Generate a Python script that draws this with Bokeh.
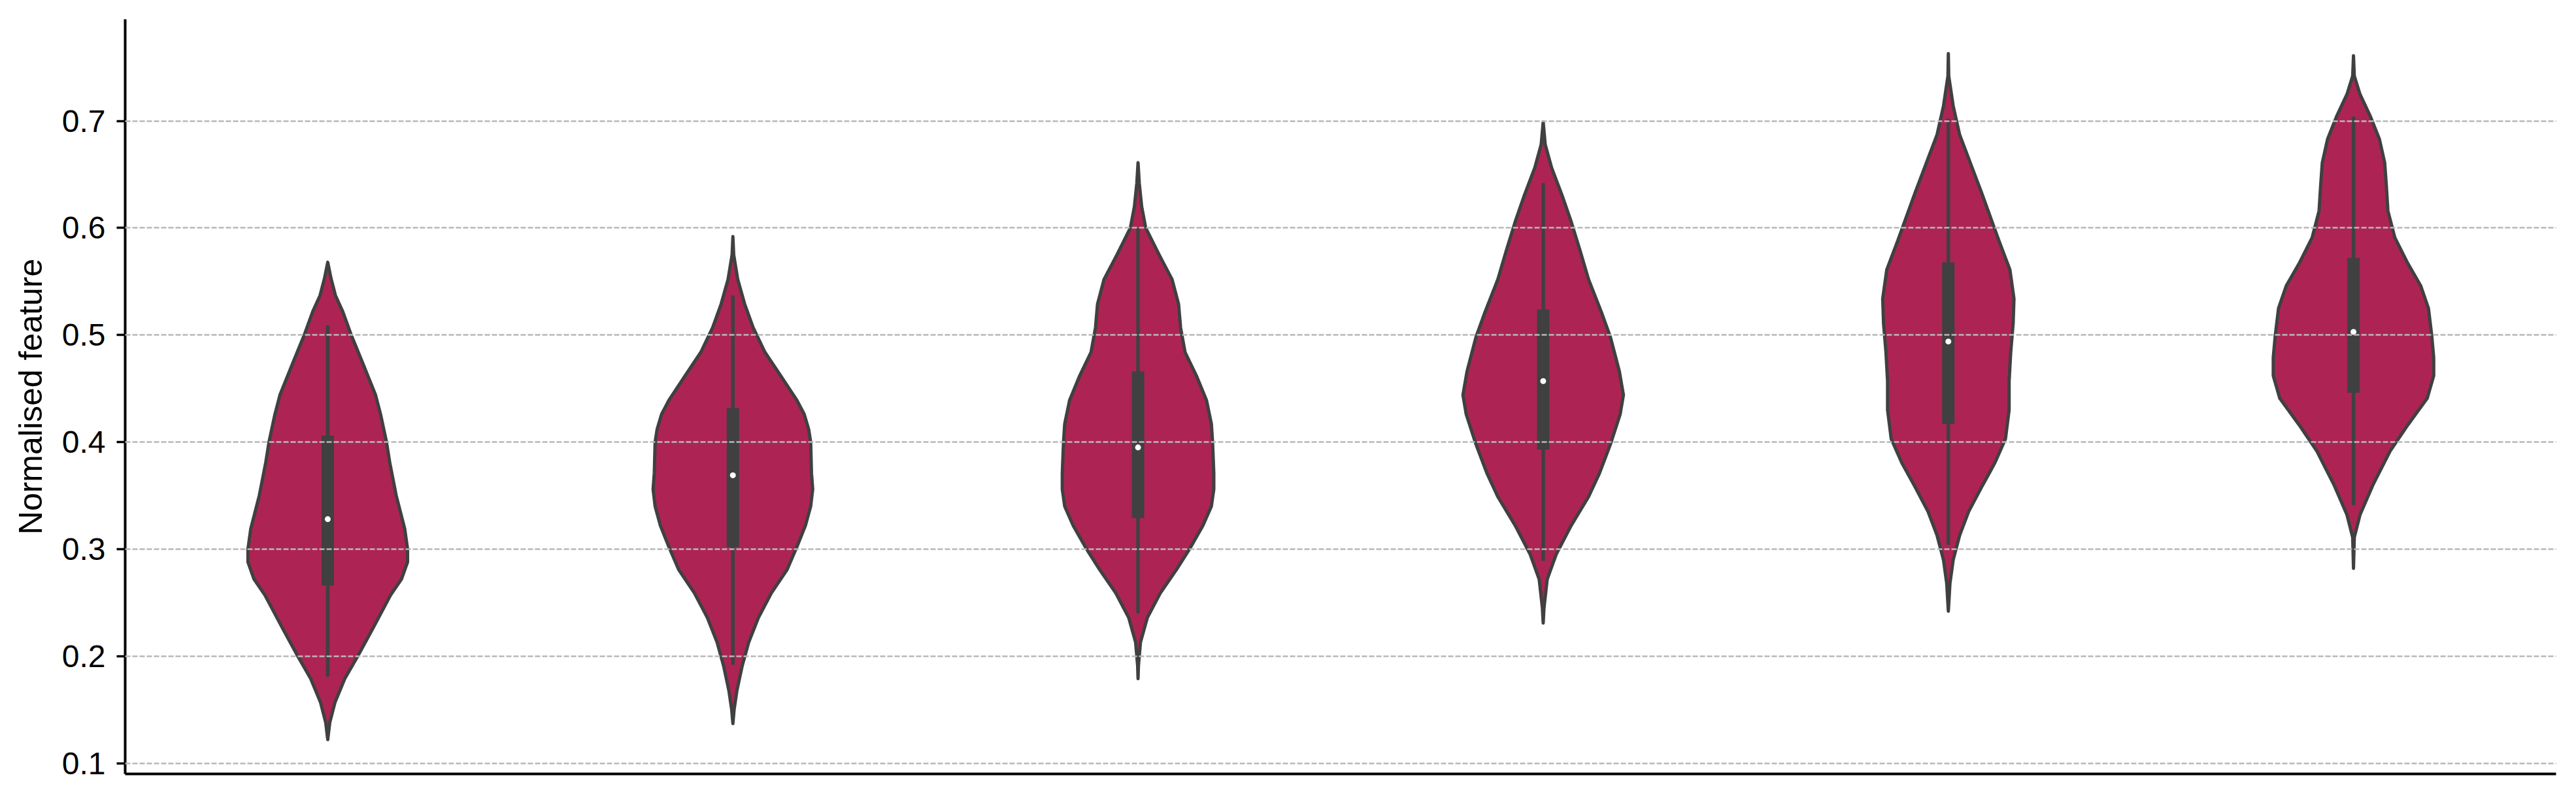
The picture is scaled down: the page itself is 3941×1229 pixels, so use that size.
from bokeh.plotting import figure
from bokeh.models import Range1d, FixedTicker
from bokeh.embed import file_html
from bokeh.resources import INLINE

# ---- data ----
categories = [0, 1, 2, 3, 4, 5]

# violin outlines: sampled values (y) and half widths (in category units)
v1_y = [0.568, 0.553, 0.537, 0.522, 0.500, 0.475, 0.444, 0.425, 0.400, 0.381, 0.350,
        0.319, 0.300, 0.288, 0.272, 0.257, 0.225, 0.200, 0.179, 0.157, 0.138, 0.122]
v1_hw = [0.000, 0.008, 0.019, 0.037, 0.058, 0.085, 0.118, 0.131, 0.145, 0.153, 0.169,
         0.190, 0.197, 0.197, 0.182, 0.155, 0.110, 0.074, 0.042, 0.018, 0.005, 0.000]

v2_y = [0.592, 0.575, 0.552, 0.529, 0.507, 0.484, 0.462, 0.439, 0.426, 0.412, 0.400, 0.371,
        0.356, 0.340, 0.322, 0.304, 0.281, 0.259, 0.236, 0.213, 0.191, 0.168, 0.150, 0.137]
v2_hw = [0.000, 0.002, 0.012, 0.029, 0.050, 0.079, 0.118, 0.158, 0.176, 0.187, 0.192, 0.194,
         0.197, 0.192, 0.179, 0.160, 0.134, 0.095, 0.063, 0.039, 0.023, 0.010, 0.003, 0.000]

v3_y = [0.661, 0.642, 0.620, 0.600, 0.575, 0.552, 0.529, 0.507, 0.484, 0.462, 0.439, 0.417,
        0.400, 0.371, 0.356, 0.340, 0.322, 0.300, 0.281, 0.259, 0.236, 0.213, 0.191, 0.179]
v3_hw = [0.000, 0.003, 0.009, 0.019, 0.052, 0.084, 0.100, 0.105, 0.116, 0.144, 0.169, 0.181,
         0.184, 0.187, 0.187, 0.181, 0.160, 0.127, 0.095, 0.055, 0.023, 0.006, 0.001, 0.000]

v4_y = [0.699, 0.678, 0.656, 0.629, 0.606, 0.579, 0.552, 0.520, 0.498, 0.466,
        0.444, 0.426, 0.398, 0.371, 0.349, 0.322, 0.295, 0.272, 0.245, 0.231]
v4_hw = [0.000, 0.005, 0.021, 0.048, 0.069, 0.091, 0.112, 0.145, 0.166, 0.188,
         0.198, 0.190, 0.166, 0.139, 0.112, 0.069, 0.032, 0.010, 0.002, 0.000]

v5_y = [0.763, 0.742, 0.714, 0.687, 0.665, 0.633, 0.611, 0.588, 0.561, 0.534, 0.511,
        0.484, 0.457, 0.430, 0.403, 0.380, 0.358, 0.335, 0.313, 0.290, 0.268, 0.242]
v5_hw = [0.000, 0.001, 0.012, 0.028, 0.050, 0.082, 0.103, 0.125, 0.152, 0.162, 0.160,
         0.154, 0.150, 0.150, 0.141, 0.114, 0.082, 0.050, 0.028, 0.012, 0.004, 0.000]

v6_y = [0.761, 0.742, 0.725, 0.704, 0.683, 0.661, 0.640, 0.616, 0.591, 0.567, 0.546,
        0.525, 0.500, 0.479, 0.462, 0.441, 0.416, 0.392, 0.360, 0.332, 0.311, 0.282]
v6_hw = [0.000, 0.002, 0.016, 0.042, 0.064, 0.077, 0.081, 0.085, 0.102, 0.134, 0.166,
         0.185, 0.193, 0.198, 0.198, 0.182, 0.134, 0.091, 0.048, 0.016, 0.002, 0.000]

medians = [0.328, 0.369, 0.395, 0.457, 0.494, 0.503]
q1 = [0.266, 0.302, 0.329, 0.393, 0.417, 0.446]
q3 = [0.406, 0.432, 0.466, 0.524, 0.568, 0.572]
whisker_lo = [0.181, 0.192, 0.240, 0.289, 0.304, 0.341]
whisker_hi = [0.509, 0.537, 0.600, 0.642, 0.702, 0.704]

y_ticks = [0.1, 0.2, 0.3, 0.4, 0.5, 0.6, 0.7]
y_label = "Normalised feature"

# ---- styling ----
FILL = "#ad2454"
EDGE = "#404040"
FONT = "Liberation Sans"

p = figure(width=3933, height=1221, output_backend="svg", toolbar_location=None,
           x_range=Range1d(-0.5, 5.5), y_range=Range1d(0.090, 0.795),
           min_border_left=191, min_border_right=23, min_border_top=29,
           min_border_bottom=37)
p.background_fill_color = "white"
p.border_fill_color = "white"
p.outline_line_color = None

profiles = [(v1_y, v1_hw), (v2_y, v2_hw), (v3_y, v3_hw),
            (v4_y, v4_hw), (v5_y, v5_hw), (v6_y, v6_hw)]
xs, ys = [], []
for c, (vy, vh) in zip(categories, profiles):
    xr = [c + h for h in vh]
    xl = [c - h for h in reversed(vh)]
    xs.append(xr + xl)
    ys.append(list(vy) + list(reversed(vy)))

p.patches(xs, ys, fill_color=FILL, line_color=EDGE, line_width=5, line_join="round")

p.segment(x0=categories, y0=whisker_lo, x1=categories, y1=whisker_hi,
          line_color=EDGE, line_width=5.5, line_cap="butt")
p.segment(x0=categories, y0=q1, x1=categories, y1=q3,
          line_color=EDGE, line_width=19, line_cap="butt")
p.scatter(x=categories, y=medians, size=9, fill_color="white", line_color=None)

# grid
p.xgrid.visible = False
p.ygrid.ticker = FixedTicker(ticks=y_ticks)
p.ygrid.grid_line_color = "#b8b8b8"
p.ygrid.grid_line_width = 2.5
p.ygrid.grid_line_dash = "8 3"
p.ygrid.level = "overlay"

# y axis
p.yaxis.ticker = FixedTicker(ticks=y_ticks)
p.yaxis.axis_line_color = "black"
p.yaxis.axis_line_width = 4
p.yaxis.major_tick_line_color = "black"
p.yaxis.major_tick_line_width = 3.5
p.yaxis.major_tick_out = 13
p.yaxis.major_tick_in = 0
p.yaxis.minor_tick_line_color = None
p.yaxis.major_label_standoff = 17
p.yaxis.major_label_text_font = FONT
p.yaxis.major_label_text_font_size = "48px"
p.yaxis.major_label_text_color = "black"
p.yaxis.axis_label = y_label
p.yaxis.axis_label_text_font = FONT
p.yaxis.axis_label_text_font_size = "50px"
p.yaxis.axis_label_text_font_style = "normal"
p.yaxis.axis_label_text_color = "black"
p.yaxis.axis_label_standoff = 17

# x axis (spine only)
p.xaxis.axis_line_color = "black"
p.xaxis.axis_line_width = 4
p.xaxis.major_tick_line_color = None
p.xaxis.minor_tick_line_color = None
p.xaxis.major_label_text_font_size = "0px"
p.xaxis.major_label_text_color = None

open("out.html", "w").write(file_html(p, INLINE))
